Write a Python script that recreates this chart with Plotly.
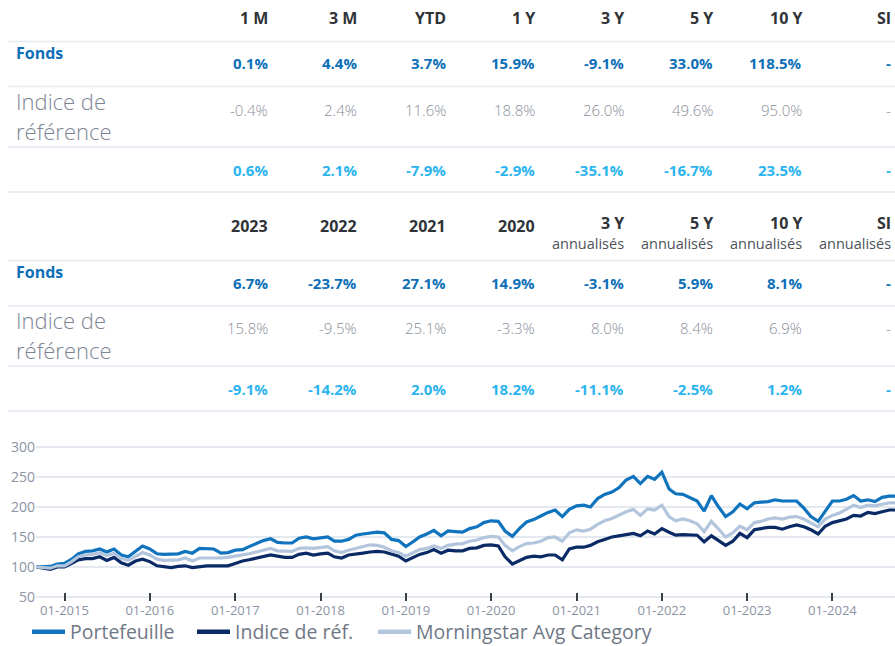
import plotly.graph_objects as go
import pandas as pd

# ---------------- table data ----------------
PERIODS_1 = ["1 M", "3 M", "YTD", "1 Y", "3 Y", "5 Y", "10 Y", "SI"]
FONDS_1 = ["0.1%", "4.4%", "3.7%", "15.9%", "-9.1%", "33.0%", "118.5%", "-"]
INDICE_1 = ["-0.4%", "2.4%", "11.6%", "18.8%", "26.0%", "49.6%", "95.0%", "-"]
DIFF_1 = ["0.6%", "2.1%", "-7.9%", "-2.9%", "-35.1%", "-16.7%", "23.5%", "-"]

PERIODS_2 = ["2023", "2022", "2021", "2020", "3 Y", "5 Y", "10 Y", "SI"]
PERIODS_2_SUB = ["", "", "", "", "annualisés", "annualisés", "annualisés", "annualisés"]
FONDS_2 = ["6.7%", "-23.7%", "27.1%", "14.9%", "-3.1%", "5.9%", "8.1%", "-"]
INDICE_2 = ["15.8%", "-9.5%", "25.1%", "-3.3%", "8.0%", "8.4%", "6.9%", "-"]
DIFF_2 = ["-9.1%", "-14.2%", "2.0%", "18.2%", "-11.1%", "-2.5%", "1.2%", "-"]

LABEL_FONDS = "Fonds"
LABEL_INDICE = ["Indice de", "référence"]

# ---------------- chart data (monthly, base 100) ----------------
START_MONTH = "2014-09-01"
PORTEFEUILLE = [
    100, 100, 101, 105, 106, 113, 122, 126, 127, 130, 125, 130,
    120, 117, 127, 135, 130, 122, 121, 122, 122, 126, 123, 131,
    131, 130, 123, 124, 128, 129, 134, 139, 144, 147, 141, 140,
    140, 148, 150, 147, 148, 150, 143, 143, 146, 153, 155, 156,
    158, 157, 146, 144, 134, 142, 150, 155, 161, 152, 160, 159,
    158, 164, 167, 174, 177, 176, 160, 151, 164, 175, 179, 185,
    191, 195, 184, 196, 202, 203, 200, 214, 221, 225, 232, 245,
    251, 239, 251, 246, 258, 230, 222, 221, 216, 210, 193, 219,
    200, 184, 192, 205, 197, 207, 208, 209, 212, 210, 210, 210,
    198, 184, 176, 193, 210, 210, 213, 219, 210, 212, 209, 216,
    218, 218,
]
INDICE = [
    100, 98, 96, 100, 100, 106, 112, 114, 114, 117, 111, 116,
    107, 103, 110, 113, 109, 102, 100, 99, 101, 102, 99, 101,
    102, 102, 102, 102, 106, 110, 112, 115, 118, 120, 118, 116,
    116, 121, 123, 120, 122, 123, 117, 115, 120, 121, 123, 125,
    126, 125, 121, 118, 110, 116, 121, 124, 129, 123, 128, 127,
    127, 131, 132, 136, 137, 135, 117, 105, 111, 116, 118, 117,
    120, 120, 112, 130, 133, 133, 136, 142, 146, 150, 152, 154,
    156, 152, 160, 155, 164, 158, 153, 154, 154, 153, 142, 152,
    144, 136, 143, 156, 149, 162, 164, 166, 166, 163, 167, 170,
    167, 162, 155, 168, 174, 177, 180, 186, 185, 191, 189, 192,
    195, 195,
]
MORNINGSTAR = [
    100, 99, 98, 102, 102, 109, 117, 120, 121, 124, 119, 123,
    114, 111, 118, 124, 120, 113, 111, 111, 112, 115, 110, 115,
    115, 114, 115, 116, 118, 119, 122, 125, 128, 131, 127, 126,
    126, 131, 132, 131, 132, 134, 127, 124, 128, 131, 134, 137,
    136, 133, 127, 124, 118, 124, 129, 131, 135, 131, 136, 138,
    139, 143, 145, 149, 151, 150, 136, 127, 134, 139, 140, 143,
    149, 150, 143, 157, 162, 160, 163, 171, 177, 181, 187, 192,
    196, 186, 197, 195, 203, 184, 177, 180, 177, 172, 159, 176,
    163, 150, 157, 168, 162, 174, 176, 180, 182, 180, 183, 184,
    180, 174, 167, 180, 186, 190, 196, 203, 199, 203, 202, 205,
    207, 207,
]
SERIES_NAMES = ["Portefeuille", "Indice de réf.", "Morningstar Avg Category"]
BASELINE = 100
Y_TICKS = [50, 100, 150, 200, 250, 300]

# ---------------- styling ----------------
W, H = 895, 646
FONT = "Open Sans"
C_HEAD = "#2f3337"
C_FONDS = "#0d6fb8"
C_INDICE = "#8a909a"
C_DIFF = "#2cb4ee"
C_LABEL = "#7d8594"
C_SUB = "#4d5259"
C_SEP = "#e4e9f0"
LINE_COLORS = ["#0f73bd", "#0a2a66", "#b3c5dc"]
LEGEND_X = [27, 192, 373]


def py(y):
    return 1 - y / H


def px(x):
    return x / W


COL_RIGHT0, COL_STEP = 270, 89

months = pd.date_range(START_MONTH, periods=len(PORTEFEUILLE), freq="MS")

fig = go.Figure()
legend_ids = ["legend", "legend2", "legend3"]
for name, vals, col, lg in zip(SERIES_NAMES, [PORTEFEUILLE, INDICE, MORNINGSTAR], LINE_COLORS, legend_ids):
    fig.add_trace(go.Scatter(x=months, y=vals, mode="lines", name=name, showlegend=False,
                             line=dict(color=col, width=3.2), xaxis="x", yaxis="y"))
for name, col, lg in zip(SERIES_NAMES, LINE_COLORS, legend_ids):
    # legend-only entry with a thicker swatch
    fig.add_trace(go.Scatter(x=[None], y=[None], mode="lines", name=name, legend=lg,
                             line=dict(color=col, width=4.5), xaxis="x", yaxis="y"))

# invisible helper trace for the table axis
fig.add_trace(go.Scatter(x=[0], y=[0], mode="markers", marker=dict(opacity=0),
                         showlegend=False, hoverinfo="skip", xaxis="x2", yaxis="y2"))

fig.add_hline(y=BASELINE, line_color="#6e7580", line_width=1.5, layer="below")

ann = []
shapes = []


def cell(i, y, text, color, size, weight):
    ann.append(dict(x=i, xref="x2", y=py(y), yref="paper", text=text, showarrow=False,
                    xanchor="right", yanchor="middle",
                    font=dict(family=FONT, size=size, color=color, weight=weight)))


def label(y, text, color, size, weight):
    ann.append(dict(x=px(14), xref="paper", y=py(y), yref="paper", text=text, showarrow=False,
                    xanchor="left", yanchor="middle",
                    font=dict(family=FONT, size=size, color=color, weight=weight)))


def sep(y):
    shapes.append(dict(type="line", xref="paper", yref="paper", x0=px(8), x1=1,
                       y0=py(y), y1=py(y), line=dict(color=C_SEP, width=1.5)))


tables = [
    dict(head=PERIODS_1, sub=None, fonds=FONDS_1, indice=INDICE_1, diff=DIFF_1,
         head_y=18, seps=[41.5, 86.5, 147, 192], fl=53, fv=63, il=(101, 131), iv=110, dv=170),
    dict(head=PERIODS_2, sub=PERIODS_2_SUB, fonds=FONDS_2, indice=INDICE_2, diff=DIFF_2,
         head_y=226, seps=[260.5, 306, 366, 411], fl=272, fv=283, il=(320, 350), iv=328, dv=389),
]

for t in tables:
    for i, h in enumerate(t["head"]):
        if t["sub"] and t["sub"][i]:
            cell(i, t["head_y"] - 3, h, C_HEAD, 16, 700)
            cell(i, t["head_y"] + 17, t["sub"][i], C_SUB, 14.5, 400)
        else:
            cell(i, t["head_y"], h, C_HEAD, 16, 700)
    for i, v in enumerate(t["fonds"]):
        cell(i, t["fv"], v, C_FONDS, 15, 700)
    for i, v in enumerate(t["indice"]):
        cell(i, t["iv"], v, C_INDICE, 15, 300)
    for i, v in enumerate(t["diff"]):
        cell(i, t["dv"], v, C_DIFF, 15, 700)
    label(t["fl"], LABEL_FONDS, C_FONDS, 16, 700)
    label(t["il"][0], LABEL_INDICE[0], C_LABEL, 22, 300)
    label(t["il"][1], LABEL_INDICE[1], C_LABEL, 22, 300)
    for s in t["seps"]:
        sep(s)

legend_common = dict(orientation="h", xanchor="left", y=py(632), yanchor="middle",
                     font=dict(family=FONT, size=19.5, color="#6f7785"),
                     itemwidth=33, bgcolor="rgba(0,0,0,0)")

fig.update_layout(
    width=W, height=H,
    margin=dict(l=0, r=0, t=0, b=0, autoexpand=False),
    paper_bgcolor="white", plot_bgcolor="white",
    font=dict(family=FONT),
    showlegend=True,
    legend=dict(x=px(LEGEND_X[0]), **legend_common),
    legend2=dict(x=px(LEGEND_X[1]), **legend_common),
    legend3=dict(x=px(LEGEND_X[2]), **legend_common),
    xaxis=dict(domain=[px(36), 1], anchor="y", type="date",
               range=["2014-09-01", "2024-09-25"],
               showgrid=False, zeroline=False, showline=False,
               ticks="inside", ticklen=8, tickwidth=2, tickcolor="#3a3f45",
               tick0="2015-01-01", dtick="M12", tickformat="%m-%Y",
               tickfont=dict(family=FONT, size=13, color="#8b94a3")),
    yaxis=dict(domain=[py(601), py(444)], anchor="x",
               range=[50 - 4 / 0.6, 305],
               tickvals=Y_TICKS, showgrid=True, gridcolor=C_SEP, gridwidth=1.5,
               zeroline=False, showline=False, ticks="",
               tickfont=dict(family=FONT, size=14, color="#8b94a3")),
    xaxis2=dict(domain=[0, 1], anchor="y2", range=[-COL_RIGHT0 / COL_STEP, (W - COL_RIGHT0) / COL_STEP],
                visible=False, fixedrange=True),
    yaxis2=dict(domain=[py(415), 1], anchor="x2", range=[0, 1], visible=False, fixedrange=True),
    annotations=ann,
    shapes=fig.layout.shapes + tuple(shapes),
)

fig.write_html("out.html")
